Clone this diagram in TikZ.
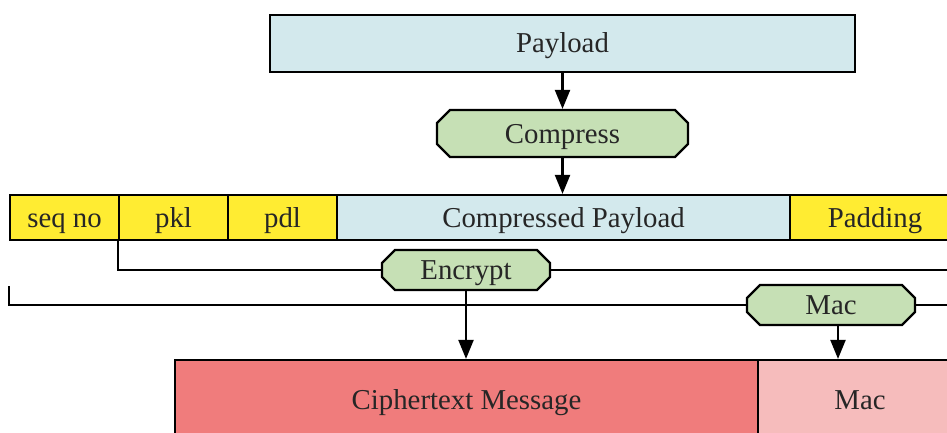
\documentclass[tikz,border=0pt]{standalone}
\usepackage{fontspec}
\setmainfont{Liberation Serif}
\usetikzlibrary{shapes.misc,arrows.meta,calc}
\definecolor{pblue}{RGB}{211,233,237}
\definecolor{pgreen}{RGB}{198,224,181}
\definecolor{pyellow}{RGB}{255,236,50}
\definecolor{pred}{RGB}{240,124,124}
\definecolor{ppink}{RGB}{246,188,188}
\begin{document}
\begin{tikzpicture}[x=1pt,y=-1pt,
  every node/.style={font=\fontsize{28.8}{32}\selectfont, text=black!85, inner sep=0pt,
    text height=19pt, text depth=0pt},
  field/.style={draw, line width=2.2pt, rectangle, minimum height=#1},
  field/.default=45pt,
  proc/.style={draw, line width=2.2pt, fill=pgreen, chamfered rectangle,
    chamfered rectangle xsep=6.5pt, chamfered rectangle ysep=6.5pt,
    minimum height=40pt},
  conn/.style={line width=2.2pt},
  arr/.style={line width=2.2pt, -{Triangle[width=15pt,length=19pt]}}
]
\useasboundingbox (0,0) rectangle (947,433);
\clip (0,0) rectangle (947,433);
% payload
\node[field=57pt, fill=pblue, minimum width=585pt] (pay) at (562.5,43.5) {Payload};
\node[proc, minimum width=251pt, minimum height=47pt] (comp) at (562.5,133.5) {Compress};
% record row
\node[field, fill=pyellow, minimum width=109pt] (seq) at (64.5,217.5) {seq no};
\node[field, fill=pyellow, minimum width=109pt] (pkl) at (173.5,217.5) {pkl};
\node[field, fill=pyellow, minimum width=109pt] (pdl) at (282.5,217.5) {pdl};
\node[field, fill=pblue, minimum width=453pt] (cp) at (563.5,217.5) {Compressed Payload};
\node[field, fill=pyellow, minimum width=170pt] (pad) at (875,217.5) {Padding};
% processes
\node[proc, minimum width=168pt] (enc) at (466,270) {Encrypt};
\node[proc, minimum width=168pt] (macp) at (831,305) {Mac};
% output
\node[field=80pt, fill=pred, minimum width=583pt] (ciph) at (466.5,400) {Ciphertext Message};
\node[field=80pt, fill=ppink, minimum width=204pt] (maco) at (860,400) {Mac};
% connectors
\draw[arr] (pay.south) -- (comp.north);
\draw[arr] (comp.south) -- (comp.south |- cp.north);
\draw[conn] (pkl.south west) |- (enc.west);
\draw[conn] (enc.east) -- (enc.east -| pad.east);
\coordinate (s2) at ([yshift=-45pt]seq.south west);
\draw[conn] (s2) |- (macp.west);
\draw[conn] (macp.east) -- (macp.east -| maco.east);
\draw[arr] (enc.south) -- (enc.south |- ciph.north);
\draw[arr] ([xshift=7pt]macp.south) -- ([xshift=7pt]macp.south |- maco.north);
\end{tikzpicture}
\end{document}
